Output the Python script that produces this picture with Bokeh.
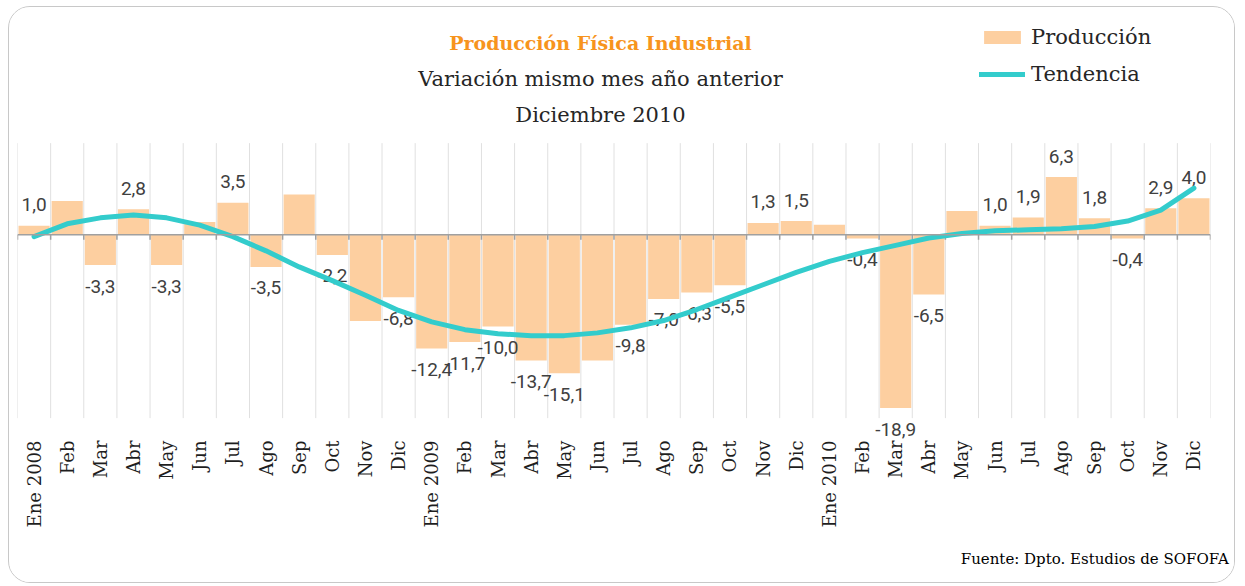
import math
from bokeh.plotting import figure
from bokeh.models import (Range1d, FixedTicker, Span, Label, Legend, LegendItem, ColumnDataSource, Title)
from bokeh.core.properties import value
from bokeh.embed import file_html
from bokeh.resources import INLINE

# ---------------- data ----------------
categories = ["Ene 2008", "Feb", "Mar", "Abr", "May", "Jun", "Jul", "Ago", "Sep", "Oct", "Nov", "Dic",
              "Ene 2009", "Feb", "Mar", "Abr", "May", "Jun", "Jul", "Ago", "Sep", "Oct", "Nov", "Dic",
              "Ene 2010", "Feb", "Mar", "Abr", "May", "Jun", "Jul", "Ago", "Sep", "Oct", "Nov", "Dic"]

produccion = [1.0, 3.7, -3.3, 2.8, -3.3, 1.4, 3.5, -3.5, 4.4, -2.2, -9.4, -6.8,
              -12.4, -11.7, -10.0, -13.7, -15.1, -13.7, -9.8, -7.0, -6.3, -5.5, 1.3, 1.5,
              1.1, -0.4, -18.9, -6.5, 2.6, 1.0, 1.9, 6.3, 1.8, -0.4, 2.9, 4.0]

etiquetas = ["1,0", "", "-3,3", "2,8", "-3,3", "", "3,5", "-3,5", "", "-2,2", "", "-6,8",
             "-12,4", "-11,7", "-10,0", "-13,7", "-15,1", "", "-9,8", "-7,0", "-6,3", "-5,5", "1,3", "1,5",
             "", "-0,4", "-18,9", "-6,5", "", "1,0", "1,9", "6,3", "1,8", "-0,4", "2,9", "4,0"]

tendencia = [-0.2, 1.2, 1.85, 2.15, 1.85, 1.05, -0.2, -1.75, -3.5, -5.0, -6.6, -8.25,
             -9.5, -10.35, -10.8, -11.0, -11.0, -10.7, -10.15, -9.35, -8.15, -6.8, -5.45, -4.1,
             -2.9, -1.95, -1.15, -0.35, 0.15, 0.43, 0.55, 0.65, 0.9, 1.5, 2.7, 5.1]

titulo = "Producción Física Industrial"
subtitulo1 = "Variación mismo mes año anterior"
subtitulo2 = "Diciembre 2010"
fuente = "Fuente: Dpto. Estudios  de SOFOFA"

y_min, y_max = -20, 10   # visible value band (gridlines)

# ---------------- figure ----------------
n = len(categories)
xc = [i + 0.5 for i in range(n)]

src = ColumnDataSource(dict(
    x=xc, v=produccion, lab=etiquetas, t=tendencia,
    yoff=[-21 if v >= 0 else 21 for v in produccion],
))

W, H = 1227, 577
k = 275 / 30.0          # px per unit
zero_px = 227.3         # canvas y of the zero line
frame_h = 438
p = figure(width=W, height=H, x_range=Range1d(0, n),
           y_range=Range1d(-(frame_h - zero_px) / k, zero_px / k),
           output_backend="svg", toolbar_location=None, y_axis_location=None,
           min_border_left=8, min_border_right=26, min_border_top=0, min_border_bottom=H - frame_h,
           outline_line_color=None, background_fill_color="white", border_fill_color="white")
p.styles = {"border": "1px solid #c8c8c8", "border-radius": "22px", "overflow": "hidden",
            "margin-left": "8px", "margin-top": "6px"}

# grid (vertical lines between months, limited to the value band)
p.xgrid.visible = False
p.ygrid.visible = False
bnd = list(range(0, n + 1))
p.segment(x0=bnd, x1=bnd, y0=[y_min] * len(bnd), y1=[y_max] * len(bnd),
          line_color="#e0e0e0", line_width=1)

# x axis
ax = p.xaxis[0]
ax.ticker = FixedTicker(ticks=xc)
ax.major_label_overrides = {x: c for x, c in zip(xc, categories)}
ax.major_label_orientation = math.pi / 2
ax.axis_line_color = None
ax.major_tick_line_color = None
ax.major_tick_out = 0
ax.major_tick_in = 0
ax.minor_tick_line_color = None
ax.major_label_standoff = -5
ax.major_label_text_font = "DejaVu Serif"
ax.major_label_text_font_size = "18px"
ax.major_label_text_color = "#1e1e1e"

# bars
bars = p.vbar(x="x", top="v", bottom=0, width=0.94, source=src,
              fill_color="#FDCFA0", line_color=None)

# zero line and ticks
p.add_layout(Span(location=0, dimension="width", line_color="#a0a0a0", line_width=1.5))
p.segment(x0=bnd, x1=bnd, y0=[0] * len(bnd), y1=[-0.55] * len(bnd), line_color="#a0a0a0", line_width=1.5)

# data labels
p.text(x="x", y="v", text="lab", y_offset="yoff", source=src, text_align="center",
       text_baseline="middle", text_font=value("Roboto"), text_font_size="19px", text_color="#404040")

# trend
trend = p.line(x="x", y="t", source=src, line_color="#33CCCC", line_width=5,
               line_cap="round", line_join="round")

# titles
p.add_layout(Label(x=590, y=34, x_units="canvas", y_units="canvas", text=titulo, text_align="center",
                   text_baseline="middle", text_font="DejaVu Serif", text_font_style="bold",
                   text_font_size="19px", text_color="#F7941D"))
p.add_layout(Label(x=590, y=70, x_units="canvas", y_units="canvas", text=subtitulo1, text_align="center",
                   text_baseline="middle", text_font="DejaVu Serif", text_font_size="21px", text_color="#262626"))
p.add_layout(Label(x=590, y=106, x_units="canvas", y_units="canvas", text=subtitulo2, text_align="center",
                   text_baseline="middle", text_font="DejaVu Serif", text_font_size="21px", text_color="#262626"))

# footer
p.add_layout(Title(text=fuente, align="right", offset=-23, standoff=34, text_font="DejaVu Serif",
                   text_font_size="15px", text_font_style="normal", text_color="#000000"), "below")

# legend
legend = Legend(items=[LegendItem(label="Producción", renderers=[bars]),
                       LegendItem(label="Tendencia", renderers=[trend])],
                location=(962, 359), orientation="vertical",
                label_text_font="DejaVu Serif", label_text_font_size="21px", label_text_color="#262626",
                glyph_width=46, glyph_height=16, label_standoff=6, spacing=13, padding=0, margin=0,
                border_line_color=None, background_fill_alpha=0)
p.add_layout(legend, "center")

open("out.html", "w").write(file_html(p, INLINE))
